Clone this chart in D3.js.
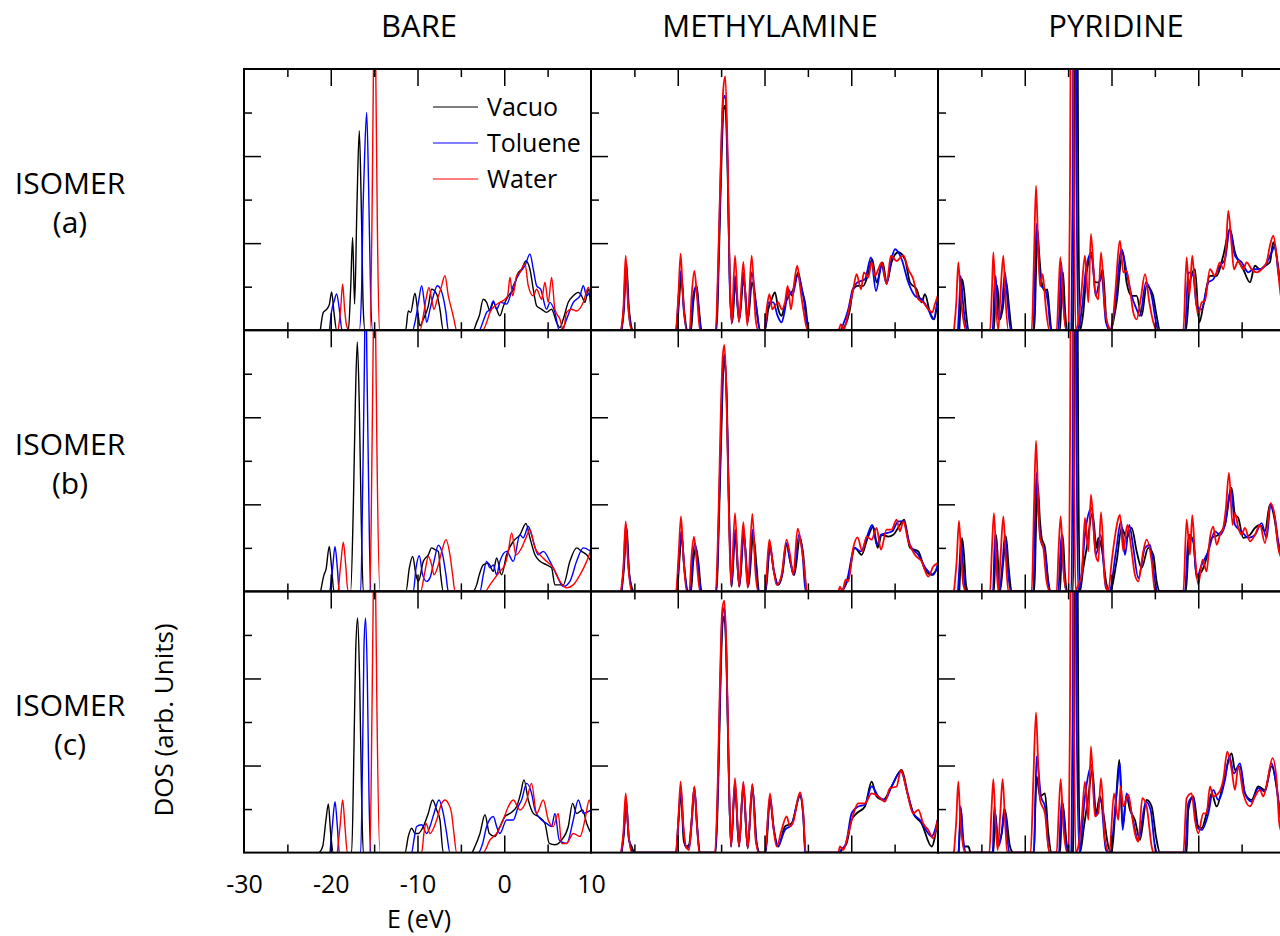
<!DOCTYPE html>
<html>
<head>
<meta charset="utf-8">
<script src="https://cdn.jsdelivr.net/npm/d3@7"></script>
<style>
  body { margin: 0; background: #fff; }
  text { font-family: "Open Sans", sans-serif; fill: #000; }
</style>
</head>
<body>
<svg id="chart" width="1280" height="936"></svg>
<script>
// DOS curves, points are [E (eV), DOS in units of one y tick]
var columns = ["BARE", "METHYLAMINE", "PYRIDINE"]
var rowTags = ["(a)", "(b)", "(c)"]
var seriesNames = ["Vacuo", "Toluene", "Water"]
var seriesColors = ["#000000", "#0000ff", "#ff0000"]
var xTickLabels = [-30, -20, -10, 0, 10]

var bareA_vac = [[-21.2,0],[-20.86,.41],[-20.47,.48],[-20.15,.6],[-19.9,.88],[-19.63,.41],[-19.32,0],[-17.97,0],[-17.71,.94],[-17.48,2.13],[-17.25,.6],[-16.98,2.86],[-16.71,4.58],[-16.48,2.86],[-16.25,.48],[-16.05,0],[-11.37,0],[-11.06,.44],[-10.79,.41],[-10.29,.85],[-10.0,.48],[-9.72,.1],[-9.33,.25],[-8.75,.56],[-8.37,.94],[-7.79,.83],[-7.41,.48],[-7.03,0],[-3.57,0],[-3.18,.18],[-2.88,.33],[-2.42,.71],[-2.03,.64],[-1.65,.44],[-1.26,.64],[-0.88,.48],[-0.5,.33],[-0.08,.56],[0.47,.79],[1.08,.94],[1.54,1.29],[2.0,1.4],[2.5,1.59],[2.96,1.4],[3.35,.94],[3.73,.56],[4.31,.48],[4.88,.41],[5.46,.48],[6.03,.18],[6.42,.06],[6.8,.25],[7.38,.64],[7.96,.79],[8.53,.87],[8.92,.79],[9.3,.64],[9.69,.94],[10,.48]]
var bareA_tol = [[-20.15,0],[-19.9,.44],[-19.6,.67],[-19.32,.83],[-19.01,.48],[-18.7,0],[-16.71,0],[-16.44,.94],[-16.32,2.4],[-16.13,3.78],[-15.86,5.0],[-15.63,3.24],[-15.4,.79],[-15.17,0],[-10.56,0],[-10.29,.18],[-9.89,.64],[-9.52,1.02],[-9.22,.64],[-8.95,.18],[-8.56,.48],[-8.17,.79],[-7.72,1.02],[-7.33,.94],[-7.03,.75],[-6.72,.41],[-6.45,0],[-2.88,0],[-2.42,.21],[-2.03,.41],[-1.65,.48],[-1.26,.67],[-0.88,.48],[-0.42,.64],[0.27,.6],[1.04,1.02],[1.81,1.33],[2.39,1.48],[2.96,1.75],[3.35,1.4],[3.73,1.02],[4.2,.94],[4.88,.48],[5.27,.64],[5.84,.41],[6.34,0],[6.8,.06],[7.19,.25],[7.96,.64],[8.73,.79],[9.11,1.02],[9.5,.79],[10,.94]]
var bareA_wat = [[-19.13,0],[-18.86,.48],[-18.63,1.06],[-18.4,.48],[-18.17,.1],[-17.86,0],[-15.48,0],[-15.25,2.48],[-15.1,5.54],[-14.94,8.61],[-14.79,5.54],[-14.63,2.48],[-14.4,0],[-9.72,0],[-9.33,.33],[-8.95,.79],[-8.68,.98],[-8.37,.71],[-8.1,.48],[-7.72,.71],[-7.33,.94],[-6.83,1.25],[-6.45,.79],[-6.07,.48],[-5.8,.25],[-5.49,0],[-2.49,0],[-2.03,.18],[-1.65,.41],[-1.07,.56],[-0.5,.64],[0.08,.71],[0.39,.79],[0.66,1.21],[0.97,.79],[1.43,1.25],[1.81,1.33],[2.39,1.52],[2.77,1.02],[3.35,.79],[3.73,.94],[4.31,.71],[4.69,1.1],[5.07,.64],[5.46,1.21],[5.84,.48],[6.42,.25],[6.8,0],[7.19,.41],[7.76,.48],[8.34,.44],[9.11,.64],[9.69,.98],[10,.79]]

var bareB_vac = [[-21.16,0],[-20.78,.38],[-20.55,.5],[-20.17,1.03],[-19.9,.54],[-19.63,0],[-17.71,0],[-17.4,1.92],[-17.17,4.29],[-16.94,5.73],[-16.71,4.29],[-16.48,1.61],[-16.25,0],[-11.33,0],[-10.94,.54],[-10.56,.8],[-10.17,.38],[-9.9,.23],[-9.33,.69],[-8.75,.84],[-8.37,1.0],[-7.99,.96],[-7.6,.92],[-7.33,.38],[-7.03,0],[-3.64,0],[-3.18,.15],[-2.88,.38],[-2.42,.61],[-1.84,.65],[-1.26,.46],[-0.88,.77],[-0.31,.38],[0.27,.84],[1.04,1.15],[1.81,1.3],[2.5,1.56],[2.96,1.23],[3.54,.84],[4.12,.69],[4.88,.61],[5.46,.54],[5.84,.15],[6.42,.15],[6.8,.15],[7.57,.69],[8.34,1.0],[8.92,.92],[9.5,.84],[10,.69]]
var bareB_tol = [[-20.09,0],[-19.78,.54],[-19.51,1.03],[-19.24,.54],[-19.01,0],[-16.55,0],[-16.32,2.38],[-16.13,5.06],[-15.98,7.36],[-15.82,5.06],[-15.63,2.38],[-15.4,0],[-10.48,0],[-10.17,.54],[-9.79,.82],[-9.41,.38],[-8.95,.23],[-8.56,.31],[-8.1,.69],[-7.6,1.06],[-7.1,.84],[-6.72,.38],[-6.45,0],[-2.8,0],[-2.42,.38],[-2.03,.69],[-1.65,.54],[-1.26,.61],[-0.88,.38],[-0.5,.69],[0.27,.92],[1.04,.69],[1.81,1.3],[2.19,1.23],[2.77,1.49],[3.35,1.15],[3.92,.84],[4.5,.92],[5.27,.69],[6.03,.38],[6.8,.11],[7.57,.23],[8.34,.69],[9.11,1.0],[10,.92]]
var bareB_wat = [[-19.13,0],[-18.82,.69],[-18.55,1.13],[-18.28,.61],[-18.01,0],[-15.48,0],[-15.25,3.14],[-15.1,5.82],[-14.98,8.51],[-14.82,5.82],[-14.67,3.14],[-14.33,0],[-9.64,0],[-9.14,.46],[-8.75,.8],[-8.37,.61],[-8.1,.38],[-7.6,.61],[-7.1,1.0],[-6.72,1.19],[-6.26,.84],[-5.95,.38],[-5.68,0],[-2.22,0],[-1.65,.15],[-1.07,.31],[-0.5,.46],[0.08,.61],[0.47,.92],[0.85,1.34],[1.35,.84],[2.0,1.0],[2.5,1.23],[2.96,1.42],[3.54,1.0],[4.12,.84],[4.88,.69],[5.65,.54],[6.42,.23],[7.19,.08],[7.96,.15],[8.73,.38],[9.5,.69],[10,.96]]

var bareC_vac = [[-21.32,0],[-20.93,.14],[-20.55,.75],[-20.28,1.12],[-20.01,.44],[-19.7,0],[-17.59,0],[-17.32,2.44],[-17.13,4.58],[-16.9,5.39],[-16.67,3.97],[-16.44,1.29],[-16.25,0],[-11.44,0],[-11.06,.37],[-10.68,.56],[-10.29,.44],[-9.91,.44],[-9.33,.6],[-8.76,.9],[-8.26,1.21],[-7.79,.98],[-7.41,.75],[-7.03,0],[-3.76,0],[-3.38,.14],[-2.8,.44],[-2.22,.87],[-1.72,.44],[-1.07,.37],[-0.5,.6],[0.08,.83],[0.66,.9],[1.43,1.06],[1.89,1.36],[2.27,1.67],[2.77,1.21],[3.35,.9],[3.92,.83],[4.69,.67],[5.19,.21],[5.84,.18],[6.61,.29],[7.38,.6],[7.88,1.13],[8.34,.9],[9.03,.98],[9.5,.67],[10,.44]]
var bareC_tol = [[-20.09,0],[-19.82,.6],[-19.51,1.17],[-19.24,.6],[-19.01,0],[-16.55,0],[-16.32,2.44],[-16.17,4.74],[-15.98,5.39],[-15.78,3.97],[-15.59,1.29],[-15.4,0],[-10.68,0],[-10.41,.29],[-10.1,.6],[-9.52,.64],[-8.95,.44],[-8.56,.6],[-8.1,.9],[-7.52,1.21],[-7.03,.9],[-6.64,.44],[-6.26,0],[-2.99,0],[-2.49,.21],[-2.03,.6],[-1.26,.83],[-0.88,.6],[-0.5,.44],[0.27,.75],[1.04,.75],[1.62,1.06],[2.0,1.21],[2.58,1.59],[3.15,1.36],[3.54,.98],[4.31,.75],[4.88,.67],[5.46,.6],[5.84,.9],[6.34,.29],[7.19,.21],[7.96,.75],[8.53,1.21],[9.11,.9],[10,.98]]
var bareC_wat = [[-19.24,0],[-18.93,.6],[-18.63,1.21],[-18.36,.6],[-18.09,0],[-15.48,0],[-15.25,3.2],[-15.1,5.89],[-14.98,8.57],[-14.82,5.89],[-14.67,3.2],[-14.33,0],[-9.52,0],[-9.26,.44],[-9.02,.67],[-8.56,.44],[-7.79,.75],[-7.22,1.13],[-6.83,1.21],[-6.45,1.13],[-6.07,.9],[-5.8,.44],[-5.49,0],[-2.42,0],[-1.65,.29],[-0.88,.44],[-0.12,.75],[0.47,1.06],[1.04,1.21],[1.81,.98],[2.58,1.21],[3.15,1.59],[3.73,.9],[4.5,1.21],[5.07,.75],[5.65,.6],[6.22,.9],[6.61,.21],[7.19,.21],[7.96,.44],[8.73,.37],[9.3,.75],[9.8,1.21],[10,1.06]]

var methA_vac = [[-26.47,0],[-26.2,.48],[-25.93,1.56],[-25.62,.48],[-25.12,0],[-20.13,0],[-19.86,.64],[-19.59,1.25],[-19.24,.41],[-18.86,0],[-18.47,0],[-18.21,.64],[-17.82,1.02],[-17.55,.48],[-17.25,0],[-15.52,0],[-15.25,1.71],[-14.94,4.01],[-14.71,5.08],[-14.52,5.16],[-14.25,3.62],[-13.98,.94],[-13.71,.18],[-13.37,1.1],[-12.9,.25],[-12.4,1.17],[-11.9,.25],[-11.44,1.1],[-11.02,.64],[-10.52,0],[-9.95,0],[-9.56,.48],[-9.18,.71],[-8.79,.87],[-8.41,.48],[-8.03,.33],[-7.64,.6],[-7.18,.79],[-6.68,.94],[-6.1,1.33],[-5.72,.94],[-5.33,.64],[-4.87,0],[-1.3,0],[-0.73,.1],[-0.15,.48],[0.23,.94],[0.73,1.02],[1.39,1.02],[1.89,1.25],[2.42,1.63],[2.92,1.1],[3.62,1.56],[4.08,1.1],[4.65,1.56],[5.42,1.79],[6.19,1.63],[6.77,1.1],[7.53,.94],[8.11,.64],[8.49,.83],[9.07,.41],[9.57,.25],[9.96,.71]]
var methA_tol = [[-26.5,0],[-26.24,.48],[-25.97,1.48],[-25.66,.48],[-25.24,0],[-20.2,0],[-19.9,.79],[-19.63,1.36],[-19.32,.48],[-18.94,0],[-18.55,0],[-18.28,.71],[-17.86,1.02],[-17.59,.48],[-17.32,0],[-15.59,0],[-15.29,1.71],[-14.98,4.16],[-14.75,5.31],[-14.52,5.39],[-14.25,3.85],[-14.02,1.1],[-13.75,.18],[-13.4,1.25],[-12.94,.21],[-12.44,1.33],[-11.94,.18],[-11.48,1.33],[-10.9,.48],[-10.52,0],[-9.95,0],[-9.56,.64],[-8.99,.64],[-8.49,.33],[-8.03,.18],[-7.64,.48],[-7.26,.94],[-6.8,.79],[-6.18,1.25],[-5.53,.79],[-4.95,0],[-1.3,0],[-0.92,.14],[-0.34,.48],[0.16,.94],[0.73,1.1],[1.58,1.17],[2.27,1.67],[2.85,.9],[3.5,1.48],[4.08,1.06],[4.57,1.56],[5.04,1.86],[5.81,1.63],[6.57,1.1],[7.34,.79],[8.11,.71],[8.88,.48],[9.45,.25],[9.96,.71]]
var methA_wat = [[-26.54,0],[-26.27,.48],[-26.0,1.71],[-25.74,.64],[-25.31,0],[-20.24,0],[-19.93,.79],[-19.67,1.76],[-19.4,.79],[-18.97,0],[-18.63,0],[-18.4,.79],[-18.09,1.36],[-17.78,.79],[-17.44,0],[-15.63,0],[-15.32,1.71],[-15.02,4.01],[-14.75,5.54],[-14.52,5.83],[-14.25,4.01],[-14.02,1.33],[-13.79,.14],[-13.4,1.71],[-12.94,.18],[-12.44,1.57],[-11.98,.1],[-11.48,1.71],[-11.02,.25],[-10.71,0],[-10.0,0],[-9.75,.48],[-9.44,.83],[-9.1,.48],[-8.79,.56],[-8.41,.64],[-8.03,.48],[-7.64,.64],[-7.33,1.02],[-6.95,.48],[-6.57,1.1],[-6.22,1.48],[-5.91,1.02],[-5.53,.48],[-5.03,0],[-1.49,0],[-1.19,.14],[-0.88,0],[-0.34,.41],[0.23,.94],[0.62,1.29],[1.12,.94],[1.46,1.33],[1.96,1.21],[2.35,1.56],[2.73,1.25],[3.12,1.4],[3.5,1.56],[4.08,1.06],[4.57,1.71],[5.23,1.59],[6.0,1.72],[6.57,1.4],[7.15,1.17],[7.73,.71],[8.3,.64],[8.88,.48],[9.34,.41],[9.65,.6],[9.96,.79]]

var methB_vac = [[-26.47,0],[-26.2,.54],[-25.89,1.46],[-25.58,.38],[-25.0,0],[-20.09,0],[-19.82,.69],[-19.55,1.3],[-19.24,.54],[-18.78,0],[-18.47,0],[-18.21,.69],[-17.9,1.0],[-17.63,.69],[-17.25,0],[-15.52,0],[-15.25,1.61],[-14.94,3.91],[-14.75,5.06],[-14.56,5.29],[-14.33,4.29],[-14.1,1.99],[-13.79,.11],[-13.4,1.3],[-12.9,.11],[-12.37,1.3],[-11.86,.11],[-11.29,1.3],[-10.9,.54],[-10.64,0],[-9.87,0],[-9.37,1.0],[-8.91,.46],[-8.41,.15],[-7.95,.38],[-7.45,1.07],[-6.95,.61],[-6.57,.38],[-5.91,1.23],[-5.53,.84],[-5.14,0],[-1.11,0],[-0.73,.11],[-0.34,.31],[0.42,1.0],[1.19,.84],[1.89,1.23],[2.54,1.49],[3.04,1.0],[3.5,1.3],[4.27,1.26],[4.84,1.3],[5.61,1.53],[6.11,1.65],[6.77,1.0],[7.73,.92],[8.49,.5],[9.26,.38],[9.96,.54]]
var methB_tol = [[-26.5,0],[-26.24,.54],[-25.97,1.53],[-25.66,.54],[-25.16,0],[-20.13,0],[-19.86,.77],[-19.59,1.38],[-19.28,.61],[-18.86,0],[-18.55,0],[-18.28,.77],[-18.01,1.11],[-17.71,.69],[-17.32,0],[-15.55,0],[-15.29,1.61],[-14.98,3.98],[-14.79,5.21],[-14.6,5.44],[-14.37,4.44],[-14.13,2.22],[-13.82,.11],[-13.37,1.42],[-12.9,.11],[-12.4,1.42],[-11.9,.11],[-11.36,1.42],[-10.98,.46],[-10.67,0],[-9.91,0],[-9.41,1.11],[-8.95,.5],[-8.49,.15],[-7.99,.38],[-7.49,1.11],[-7.03,.69],[-6.64,.38],[-6.03,1.3],[-5.64,.92],[-5.26,0],[-1.19,0],[-0.8,.11],[-0.42,.31],[0.35,1.0],[1.12,.92],[1.77,1.23],[2.42,1.53],[2.96,1.07],[3.42,1.3],[4.08,1.34],[4.73,1.38],[5.42,1.61],[6.0,1.61],[6.77,1.07],[7.73,.84],[8.69,.5],[9.45,.38],[9.96,.61]]
var methB_wat = [[-26.54,0],[-26.27,.54],[-26.0,1.61],[-25.74,.69],[-25.31,0],[-20.2,0],[-19.9,.84],[-19.63,1.72],[-19.36,.84],[-18.97,0],[-18.67,0],[-18.4,.84],[-18.13,1.26],[-17.82,.69],[-17.44,0],[-15.63,0],[-15.32,1.61],[-15.06,3.91],[-14.83,5.36],[-14.63,5.66],[-14.4,4.67],[-14.17,2.38],[-13.86,.15],[-13.4,1.8],[-12.94,.11],[-12.44,1.59],[-11.94,.08],[-11.4,1.78],[-11.02,.38],[-10.71,0],[-9.95,0],[-9.44,1.19],[-8.99,.54],[-8.6,.15],[-8.03,.38],[-7.45,1.19],[-7.06,.84],[-6.68,.38],[-6.18,1.44],[-5.72,1.0],[-5.33,.38],[-5.14,0],[-1.5,0],[-1.3,.11],[-1.03,0],[-0.65,.27],[-0.34,.23],[0.23,1.0],[0.73,1.24],[1.27,.92],[1.77,1.26],[2.35,1.19],[2.92,1.46],[3.42,.96],[4.08,1.42],[4.65,1.42],[5.23,1.65],[5.61,1.38],[6.0,1.61],[6.57,1.15],[7.34,.84],[8.11,.69],[8.88,.34],[9.45,.57],[9.96,.65]]

var methC_vac = [[-26.47,0],[-26.2,.44],[-25.93,1.13],[-25.62,.29],[-25.31,.14],[-25.0,0],[-20.17,0],[-19.9,.75],[-19.63,1.36],[-19.32,.29],[-19.05,.14],[-18.7,.18],[-18.4,.75],[-18.09,1.48],[-17.78,.6],[-17.44,0],[-15.63,0],[-15.32,1.67],[-15.06,3.97],[-14.83,5.27],[-14.63,5.43],[-14.4,4.51],[-14.17,2.28],[-13.86,.14],[-13.4,1.52],[-12.94,.14],[-12.44,1.52],[-11.94,.1],[-11.4,1.48],[-10.9,.21],[-10.52,0],[-9.87,0],[-9.37,1.21],[-8.91,.52],[-8.41,.14],[-7.64,.6],[-6.87,.67],[-5.91,1.29],[-5.53,.83],[-5.26,0],[-1.3,0],[-1.11,.06],[-0.54,.21],[0.04,.75],[0.62,.9],[1.58,1.06],[2.35,1.63],[2.92,1.29],[3.69,1.21],[4.65,1.52],[5.81,1.9],[6.57,1.29],[7.15,.9],[8.11,.67],[9.26,.14],[9.96,.75]]
var methC_tol = [[-26.5,0],[-26.24,.44],[-25.97,1.25],[-25.66,.37],[-25.16,0],[-20.2,0],[-19.93,.75],[-19.63,1.48],[-19.32,.44],[-18.97,.1],[-18.67,.14],[-18.36,.75],[-18.09,1.5],[-17.78,.67],[-17.48,0],[-15.67,0],[-15.36,1.59],[-15.09,3.97],[-14.87,5.43],[-14.63,5.62],[-14.4,4.66],[-14.17,2.36],[-13.86,.14],[-13.4,1.63],[-12.94,.14],[-12.44,1.59],[-11.94,.1],[-11.4,1.56],[-10.94,.25],[-10.63,0],[-9.91,0],[-9.37,1.29],[-8.95,.56],[-8.49,.14],[-7.64,.52],[-6.87,.64],[-5.91,1.33],[-5.53,.87],[-5.33,0],[-1.4,0],[-1.19,.06],[-0.61,.21],[0.04,.9],[0.8,1.06],[1.58,1.1],[2.35,1.52],[3.12,1.29],[3.89,1.21],[4.65,1.52],[5.73,1.86],[6.5,1.36],[7.15,.9],[7.92,.75],[8.88,.44],[9.26,.37],[9.96,.75]]
var methC_wat = [[-26.54,0],[-26.27,.44],[-26.0,1.36],[-25.74,.6],[-25.31,0],[-20.24,0],[-19.93,.75],[-19.67,1.63],[-19.4,.75],[-19.05,.14],[-18.7,.06],[-18.4,.75],[-18.09,1.52],[-17.82,.75],[-17.51,0],[-15.71,0],[-15.4,1.52],[-15.13,3.97],[-14.87,5.58],[-14.63,5.79],[-14.4,4.74],[-14.17,2.44],[-13.86,.14],[-13.4,1.71],[-12.94,.14],[-12.44,1.63],[-11.94,.1],[-11.4,1.58],[-11.02,.29],[-10.63,0],[-9.95,0],[-9.37,1.36],[-8.99,.6],[-8.6,.14],[-8.03,.52],[-7.45,.83],[-7.06,.6],[-6.68,.71],[-5.91,1.38],[-5.53,.9],[-5.26,0],[-1.5,0],[-1.3,.14],[-0.92,.06],[-0.34,.44],[0.23,.87],[0.8,1.13],[1.58,1.13],[2.35,1.36],[3.12,1.29],[3.89,1.17],[4.46,1.48],[5.23,1.52],[5.73,1.9],[6.38,1.44],[7.15,.9],[7.73,.98],[8.3,.67],[8.88,.52],[9.45,.33],[9.96,.75]]

var pyrA_vac = [[-27.54,0],[-27.39,.64],[-27.23,1.17],[-27.0,.94],[-26.77,.41],[-26.47,0],[-23.55,0],[-23.35,.94],[-23.16,1.02],[-22.85,.25],[-22.55,.48],[-22.16,1.13],[-21.78,.48],[-21.47,0],[-18.9,0],[-18.7,1.33],[-18.55,2.32],[-18.32,1.71],[-18.05,1.1],[-17.67,.9],[-17.4,.94],[-17.17,.48],[-16.9,0],[-15.94,0],[-15.79,.64],[-15.59,1.33],[-15.36,.48],[-15.06,0],[-14.44,0],[-14.29,3.24],[-14.13,9.37],[-13.98,9.37],[-13.83,3.24],[-13.63,0],[-13.25,.41],[-12.86,1.33],[-12.29,1.71],[-11.91,1.1],[-11.41,1.1],[-11.02,1.4],[-10.56,.18],[-10.18,0],[-9.41,.64],[-8.72,1.79],[-8.26,1.1],[-7.68,.79],[-7.1,.79],[-6.53,.33],[-5.95,1.02],[-5.26,.83],[-4.8,.33],[-4.41,0],[-1.42,0],[-0.96,1.1],[-0.38,1.4],[0.12,.18],[0.58,.56],[1.35,1.25],[2.12,1.25],[2.88,1.71],[3.65,2.32],[4.23,1.79],[5.19,1.4],[5.96,1.1],[6.54,1.48],[7.11,1.4],[7.69,1.48],[8.26,1.56],[8.65,2.02],[9.03,1.71],[9.42,1.17],[9.5,1.1]]
var pyrA_tol = [[-27.7,0],[-27.54,.64],[-27.39,1.25],[-27.12,.64],[-26.85,.18],[-26.62,0],[-23.7,0],[-23.51,.94],[-23.35,1.25],[-23.05,.25],[-22.66,.48],[-22.28,1.33],[-21.97,.64],[-21.62,0],[-19.01,0],[-18.82,1.33],[-18.63,2.44],[-18.4,1.71],[-18.13,1.02],[-17.67,.94],[-17.28,.56],[-17.01,0],[-16.13,0],[-15.94,.79],[-15.79,1.56],[-15.55,.64],[-15.17,0],[-14.63,0],[-14.48,3.24],[-14.33,9.37],[-14.17,9.37],[-14.02,3.24],[-13.83,0],[-13.33,.64],[-12.94,1.4],[-12.29,1.79],[-11.83,.79],[-11.33,1.17],[-11.14,1.25],[-10.64,.18],[-10.18,0],[-9.6,.56],[-8.83,1.86],[-8.26,1.33],[-7.68,.79],[-7.1,.48],[-6.72,.33],[-6.03,1.1],[-5.37,.79],[-4.87,.18],[-4.61,0],[-1.53,0],[-1.15,1.33],[-0.57,1.25],[-0.19,.56],[0.39,.48],[1.16,1.1],[1.73,1.17],[2.5,1.48],[3.08,1.63],[3.65,2.32],[4.23,1.71],[5.0,1.56],[5.77,1.33],[6.34,1.4],[7.11,1.4],[7.69,1.48],[8.46,1.79],[8.84,1.94],[9.22,1.33],[9.5,1.0]]
var pyrA_wat = [[-28.16,0],[-27.89,.64],[-27.66,1.56],[-27.39,.79],[-27.08,.25],[-26.77,0],[-24.0,0],[-23.78,.94],[-23.62,1.79],[-23.39,.79],[-23.05,0],[-22.85,.64],[-22.47,1.71],[-22.24,.79],[-21.89,0],[-19.2,0],[-18.93,1.71],[-18.7,3.32],[-18.47,2.02],[-18.24,1.02],[-17.94,1.29],[-17.55,.48],[-17.17,0],[-16.32,0],[-16.09,.94],[-15.9,1.67],[-15.63,.79],[-15.25,0],[-14.94,0],[-14.79,3.24],[-14.63,9.37],[-14.48,9.37],[-14.33,3.24],[-14.13,0],[-13.83,.18],[-13.44,.94],[-13.06,1.71],[-12.67,.64],[-12.37,2.21],[-11.91,.94],[-11.52,.71],[-11.21,1.79],[-10.75,.48],[-10.37,.1],[-9.98,0],[-9.6,.79],[-9.02,2.05],[-8.64,1.33],[-8.26,1.36],[-7.87,.94],[-7.49,.41],[-7.1,.25],[-6.64,.71],[-6.14,1.29],[-5.64,.64],[-5.18,.18],[-4.8,0],[-1.72,0],[-1.34,1.67],[-1.03,.79],[-0.69,1.71],[-0.38,.94],[0.0,.33],[0.39,.64],[0.77,.67],[1.35,1.4],[1.92,1.25],[2.5,1.56],[2.88,1.4],[3.19,1.86],[3.46,2.74],[3.85,1.94],[4.11,1.4],[4.61,1.59],[5.19,1.4],[5.57,1.56],[6.15,1.4],[6.73,1.33],[7.3,1.4],[7.88,1.56],[8.26,1.94],[8.65,2.17],[9.03,1.71],[9.42,.94],[9.5,.8]]

var pyrB_vac = [[-27.54,0],[-27.39,.69],[-27.23,1.23],[-27.0,.84],[-26.77,.15],[-26.5,0],[-23.55,0],[-23.31,1.3],[-23.08,.69],[-22.85,0],[-22.47,.69],[-22.16,1.26],[-21.85,.54],[-21.51,0],[-18.9,0],[-18.7,1.46],[-18.51,2.45],[-18.24,1.61],[-18.05,1.23],[-17.67,1.0],[-17.28,.23],[-17.01,0],[-15.94,0],[-15.79,.69],[-15.63,1.3],[-15.36,.38],[-15.06,0],[-14.44,0],[-14.29,3.14],[-14.13,9.27],[-13.98,9.27],[-13.83,3.14],[-13.63,0],[-13.25,.54],[-12.86,1.0],[-12.2,1.8],[-11.71,1.0],[-11.52,1.23],[-11.14,1.0],[-10.56,.15],[-10.18,0],[-9.41,.69],[-8.83,1.46],[-8.26,1.23],[-7.68,1.46],[-7.1,.92],[-6.53,.54],[-5.76,1.0],[-5.18,.84],[-4.8,.23],[-4.41,0],[-1.42,0],[-1.03,1.3],[-0.57,1.15],[-0.19,.38],[0.39,.46],[0.96,.77],[1.54,1.23],[2.31,1.3],[3.08,1.53],[3.85,2.38],[4.23,1.76],[4.61,1.69],[5.19,1.23],[5.96,1.3],[6.54,1.46],[7.11,1.53],[7.69,1.38],[8.26,1.99],[8.84,1.61],[9.22,1.07],[9.5,.9]]
var pyrB_tol = [[-27.7,0],[-27.5,.69],[-27.35,1.19],[-27.12,.61],[-26.93,.15],[-26.7,0],[-23.66,0],[-23.43,1.3],[-23.2,.61],[-22.93,0],[-22.55,.69],[-22.28,1.3],[-21.97,.54],[-21.62,0],[-19.01,0],[-18.82,1.61],[-18.63,2.72],[-18.4,1.76],[-18.13,1.15],[-17.67,.92],[-17.28,.15],[-17.01,0],[-16.13,0],[-15.94,.69],[-15.75,1.3],[-15.48,.38],[-15.17,0],[-14.63,0],[-14.48,3.14],[-14.33,9.27],[-14.17,9.27],[-14.02,3.14],[-13.83,0],[-13.44,.38],[-13.06,1.3],[-12.29,1.92],[-11.79,.84],[-11.25,1.3],[-10.64,.08],[-10.25,0],[-9.48,.92],[-8.91,1.61],[-8.45,.84],[-7.95,1.53],[-7.49,1.0],[-6.91,.31],[-6.14,1.0],[-5.57,1.07],[-4.99,.23],[-4.72,0],[-1.53,0],[-1.15,1.23],[-0.57,1.15],[-0.19,.31],[0.39,.61],[1.16,.92],[1.92,1.38],[2.5,1.3],[3.08,1.53],[3.77,2.38],[4.23,1.53],[5.0,1.38],[5.77,1.23],[6.54,1.3],[7.3,1.57],[7.88,1.23],[8.34,1.99],[8.84,1.69],[9.22,1.15],[9.5,.92]]
var pyrB_wat = [[-28.16,0],[-27.85,.69],[-27.58,1.62],[-27.31,.69],[-27.08,.15],[-26.77,0],[-24.0,0],[-23.78,1.0],[-23.55,1.8],[-23.31,.84],[-23.05,0],[-22.78,.84],[-22.47,1.72],[-22.2,.84],[-21.89,0],[-19.2,0],[-18.93,1.99],[-18.7,3.46],[-18.47,2.22],[-18.24,1.23],[-17.86,1.0],[-17.48,.23],[-17.09,0],[-16.32,0],[-16.09,1.0],[-15.86,1.72],[-15.55,.54],[-15.17,0],[-14.94,0],[-14.79,3.14],[-14.63,9.27],[-14.48,9.27],[-14.33,3.14],[-14.13,0],[-13.83,.15],[-13.44,.38],[-13.06,1.69],[-12.67,.92],[-12.37,2.22],[-11.83,.84],[-11.52,.69],[-11.21,1.82],[-10.75,.23],[-10.37,0],[-9.98,.69],[-9.6,1.26],[-9.02,1.76],[-8.64,.92],[-8.18,1.53],[-7.68,.92],[-7.3,.38],[-6.91,.23],[-6.34,.92],[-5.95,1.19],[-5.37,.69],[-4.99,0],[-1.72,0],[-1.34,1.65],[-0.96,.84],[-0.69,1.75],[-0.38,.84],[0.0,.15],[0.5,.73],[0.96,.46],[1.35,1.23],[1.73,1.49],[2.12,1.07],[2.5,1.3],[2.88,1.46],[3.19,1.92],[3.54,2.72],[3.96,1.53],[4.23,1.8],[4.61,1.46],[5.0,1.3],[5.38,1.46],[5.96,1.15],[6.54,1.3],[7.11,1.53],[7.69,1.11],[8.34,2.03],[8.84,1.69],[9.22,1.0],[9.42,.84],[9.5,.8]]

var pyrC_vac = [[-27.62,0],[-27.46,.6],[-27.35,.98],[-27.08,.14],[-26.5,.14],[-26.24,0],[-23.62,0],[-23.39,.9],[-23.05,.21],[-22.66,.44],[-22.28,.98],[-21.7,.14],[-21.32,0],[-18.94,0],[-18.78,1.06],[-18.63,1.75],[-18.24,1.29],[-17.67,1.36],[-17.28,.44],[-16.9,0],[-15.94,0],[-15.79,.6],[-15.63,1.13],[-15.17,.21],[-14.98,0],[-14.44,0],[-14.29,3.2],[-14.13,9.33],[-13.98,9.33],[-13.83,3.2],[-13.63,0],[-13.17,.6],[-12.67,1.29],[-12.2,1.9],[-11.79,.9],[-11.33,1.29],[-10.94,.9],[-10.37,.14],[-9.98,0],[-9.48,1.21],[-9.1,2.13],[-8.72,.6],[-8.26,1.29],[-7.87,.98],[-7.3,.75],[-6.72,.29],[-5.95,1.21],[-5.37,1.06],[-4.87,.37],[-4.41,0],[-1.34,0],[-1.15,.98],[-0.57,1.29],[0.0,.6],[0.39,.56],[0.96,.9],[1.54,1.36],[2.12,1.06],[2.88,1.59],[3.85,2.28],[4.23,1.9],[4.81,1.98],[5.38,1.36],[6.15,1.21],[6.92,1.52],[7.69,1.44],[8.46,1.98],[9.03,1.52],[9.42,.9],[9.5,.8]]
var pyrC_tol = [[-27.62,0],[-27.5,.6],[-27.39,1.06],[-27.08,.29],[-26.77,0],[-23.7,0],[-23.51,1.06],[-23.05,.14],[-22.66,.44],[-22.35,1.02],[-21.78,0],[-18.94,0],[-18.78,1.21],[-18.63,2.21],[-18.13,1.29],[-17.67,1.06],[-17.17,0],[-16.05,0],[-15.9,.67],[-15.71,1.21],[-15.21,.14],[-15.06,0],[-14.63,0],[-14.48,3.2],[-14.33,9.33],[-14.17,9.33],[-14.02,3.2],[-13.71,0],[-13.06,1.29],[-12.29,2.02],[-11.83,.83],[-11.25,1.21],[-10.64,.06],[-10.18,0],[-9.41,1.36],[-9.02,2.05],[-8.72,.52],[-8.26,1.36],[-7.68,.9],[-6.91,.29],[-6.03,1.17],[-5.49,.98],[-4.99,.14],[-4.72,0],[-1.53,0],[-1.15,1.13],[-0.57,1.29],[-0.19,.6],[0.39,.52],[1.16,.9],[1.73,1.44],[2.31,1.21],[3.08,1.67],[3.58,2.21],[4.11,1.82],[4.81,2.05],[5.38,1.36],[6.15,1.17],[6.92,1.48],[7.69,1.4],[8.46,2.05],[8.96,1.59],[9.42,.9],[9.5,.8]]
var pyrC_wat = [[-28.16,0],[-27.89,.75],[-27.66,1.63],[-27.43,.75],[-27.2,.29],[-26.89,0],[-24.08,0],[-23.85,.9],[-23.62,1.69],[-23.39,.75],[-23.12,.06],[-22.82,.9],[-22.55,1.69],[-22.28,.75],[-22.01,0],[-19.32,0],[-19.01,1.67],[-18.7,3.22],[-18.47,2.13],[-18.24,1.21],[-17.67,.9],[-17.17,0],[-16.32,0],[-16.09,.9],[-15.86,1.69],[-15.55,.6],[-15.09,0],[-14.94,0],[-14.79,3.2],[-14.63,9.33],[-14.48,9.33],[-14.33,3.2],[-14.13,0],[-13.83,.14],[-13.44,.75],[-13.06,1.63],[-12.67,.75],[-12.37,2.44],[-11.91,.83],[-11.52,.9],[-11.21,1.71],[-10.75,.29],[-10.25,0],[-9.71,1.36],[-9.22,.75],[-8.95,1.52],[-8.64,1.06],[-8.06,1.33],[-7.68,.9],[-7.3,.44],[-6.91,.25],[-6.45,1.25],[-5.95,1.06],[-5.37,.14],[-5.18,0],[-1.72,0],[-1.34,1.25],[-0.76,1.36],[-0.38,.75],[0.0,.44],[0.58,.9],[0.96,.9],[1.35,1.52],[1.73,1.29],[2.31,1.36],[2.88,1.67],[3.35,2.32],[3.85,1.9],[4.23,1.44],[4.61,1.98],[5.19,1.36],[5.96,1.06],[6.54,1.29],[7.11,1.44],[7.5,1.29],[7.88,1.56],[8.57,2.17],[9.03,1.67],[9.34,.67],[9.5,.52]]

// rows x columns, each cell is [vacuo, toluene, water]
var grid = [
  [[bareA_vac, bareA_tol, bareA_wat], [methA_vac, methA_tol, methA_wat], [pyrA_vac, pyrA_tol, pyrA_wat]],
  [[bareB_vac, bareB_tol, bareB_wat], [methB_vac, methB_tol, methB_wat], [pyrB_vac, pyrB_tol, pyrB_wat]],
  [[bareC_vac, bareC_tol, bareC_wat], [methC_vac, methC_tol, methC_wat], [pyrC_vac, pyrC_tol, pyrC_wat]]
]

var colLeft = [244, 591, 938], panelW = 347
var rowTop0 = 69, panelH = 261.2
var titleX = [419, 770, 1116]

var svg = d3.select("#chart")
svg.append("rect").attr("width", 1280).attr("height", 936).attr("fill", "#fff")
var defs = svg.append("defs")

function inwardTicks(g, axis, values, size) {
  g.call(axis.tickValues(values).tickSize(-size).tickFormat(""))
  g.select(".domain").remove()
  g.selectAll(".tick line").attr("stroke", "#000").attr("stroke-width", 1.5)
}

grid.forEach(function(row, r) {
  var top = rowTop0 + r * panelH
  var bottom = top + panelH
  var y = d3.scaleLinear().domain([0, 6]).range([bottom, top])
  row.forEach(function(cell, c) {
    var left = colLeft[c]
    var x = d3.scaleLinear().domain([-30, 10]).range([left, left + panelW])
    var id = "clip" + r + c
    defs.append("clipPath").attr("id", id).append("rect")
      .attr("x", left).attr("y", top).attr("width", panelW).attr("height", panelH)

    var line = d3.line()
      .x(function(d) { return x(d[0]) })
      .y(function(d) { return y(d[1]) })
      .curve(d3.curveMonotoneX)
    var p = svg.append("g").attr("clip-path", "url(#" + id + ")")
    cell.forEach(function(pts, s) {
      p.append("path").attr("d", line(pts)).attr("fill", "none")
        .attr("stroke", seriesColors[s])
        .attr("stroke-width", c == 0 ? 1.4 : 1.8)
        .attr("stroke-linejoin", "round")
    })

    // ticks point into the panel
    inwardTicks(svg.append("g").attr("transform", "translate(0," + top + ")"), d3.axisTop(x), [-20, -10, 0], 17)
    inwardTicks(svg.append("g").attr("transform", "translate(0," + top + ")"), d3.axisTop(x), [-25, -15, -5, 5], 8)
    inwardTicks(svg.append("g").attr("transform", "translate(0," + bottom + ")"), d3.axisBottom(x), [-20, -10, 0], 17)
    inwardTicks(svg.append("g").attr("transform", "translate(0," + bottom + ")"), d3.axisBottom(x), [-25, -15, -5, 5], 8)
    inwardTicks(svg.append("g").attr("transform", "translate(" + left + ",0)"), d3.axisLeft(y), [2, 4], 17)
    inwardTicks(svg.append("g").attr("transform", "translate(" + left + ",0)"), d3.axisLeft(y), [1, 3, 5], 8)

    svg.append("rect").attr("x", left).attr("y", top)
      .attr("width", panelW).attr("height", panelH)
      .attr("fill", "none").attr("stroke", "#000").attr("stroke-width", 2)

    if (r == 2 && c == 0) {
      var ax = svg.append("g").attr("transform", "translate(0," + bottom + ")")
        .call(d3.axisBottom(x).tickValues(xTickLabels).tickSize(0).tickPadding(23)
          .tickFormat(function(d) { return String(d) }))
      ax.select(".domain").remove()
      ax.attr("font-family", "Open Sans").attr("font-size", 25)
      ax.selectAll("text").attr("fill", "#000")
    }
  })

  svg.append("text").attr("x", 70).attr("y", top + 125).attr("text-anchor", "middle")
    .attr("font-size", 30).text("ISOMER")
  svg.append("text").attr("x", 70).attr("y", top + 164).attr("text-anchor", "middle")
    .attr("font-size", 30).text(rowTags[r])
})

columns.forEach(function(name, c) {
  svg.append("text").attr("x", titleX[c]).attr("y", 37).attr("text-anchor", "middle")
    .attr("font-size", 31).text(name)
})

svg.append("text").attr("x", 419).attr("y", 928).attr("text-anchor", "middle")
  .attr("font-size", 25).text("E (eV)")
svg.append("text").attr("transform", "translate(173,720) rotate(-90)")
  .attr("text-anchor", "middle").attr("font-size", 26).text("DOS (arb. Units)")

// legend in the first panel
var legend = svg.append("g")
seriesNames.forEach(function(name, i) {
  var ly = 107 + i * 36
  legend.append("line").attr("x1", 433).attr("x2", 478).attr("y1", ly).attr("y2", ly)
    .attr("stroke", seriesColors[i]).attr("stroke-width", 1.2)
  legend.append("text").attr("x", 487).attr("y", ly + 9).attr("font-size", 25).text(name)
})
</script>
</body>
</html>
